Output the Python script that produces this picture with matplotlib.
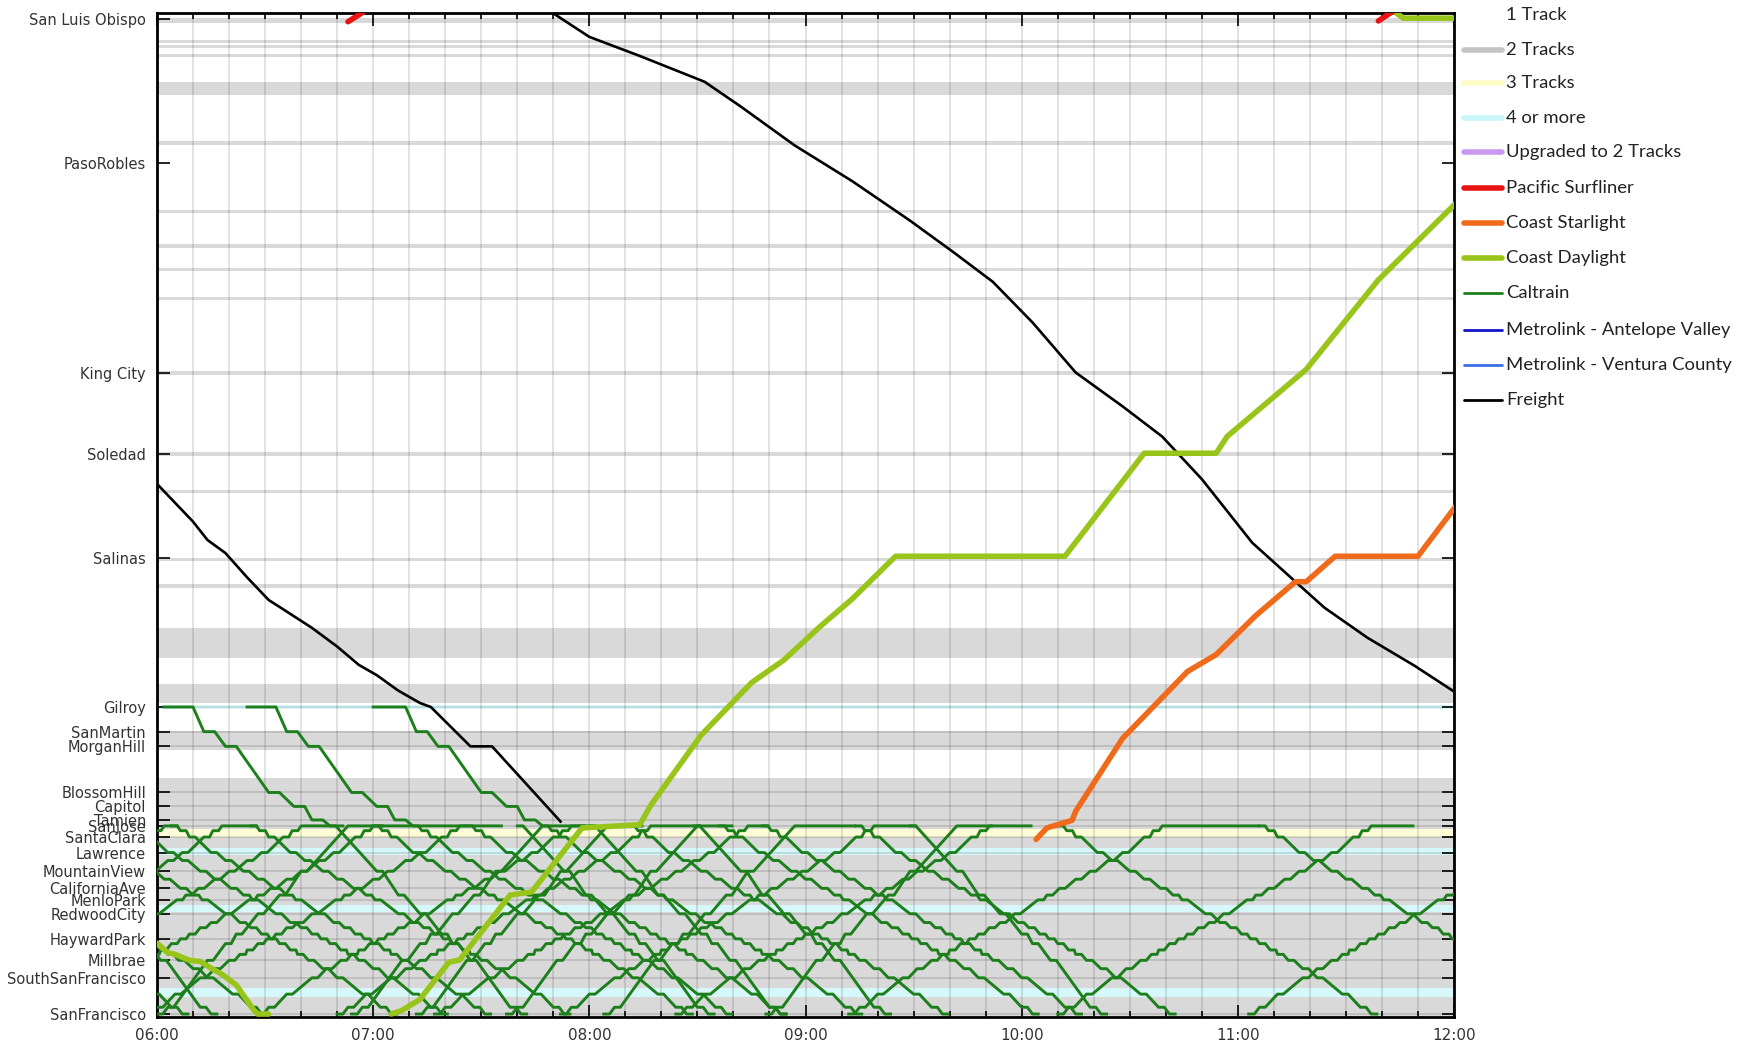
import matplotlib.pyplot as plt
from matplotlib.lines import Line2D


def hrs(s):
    h, m = s.split(':')
    return int(h) + float(m) / 60


# stations on the axis, milepost from San Francisco
station_names = ['San Luis Obispo', 'PasoRobles', 'King City', 'Soledad', 'Salinas', 'Gilroy',
                 'SanMartin', 'MorganHill', 'BlossomHill', 'Capitol', 'Tamien', 'SanJose',
                 'SantaClara', 'Lawrence', 'MountainView', 'CaliforniaAve', 'MenloPark',
                 'RedwoodCity', 'HaywardPark', 'Millbrae', 'SouthSanFrancisco', 'SanFrancisco']
station_mp = [250.4, 214.2, 161.4, 141.0, 114.9, 77.4, 71.2, 67.5, 55.9, 52.4, 49.0, 47.5,
              44.7, 40.8, 36.1, 31.8, 28.9, 25.4, 19.1, 13.7, 9.3, 0.2]

# track sections (milepost ranges)
two_tracks = [(249.5, 250.7), (244.3, 245.1), (243.0, 243.8), (240.9, 241.7), (231.3, 234.5),
              (218.8, 219.6), (201.5, 202.3), (192.9, 193.7), (187.1, 187.9), (179.8, 180.6),
              (161.0, 161.8), (140.6, 141.4), (131.1, 131.9), (114.0, 114.8), (107.4, 108.2),
              (89.7, 97.3), (78.4, 83.2), (66.6, 71.4), (-1.0, 59.5)]
three_tracks = [(44.7, 46.7)]
four_tracks = [(76.9, 77.9), (40.2, 41.9), (25.8, 27.6), (4.5, 6.7)]

# Caltrain stopping patterns (northbound, minutes after San Jose)
local_mp = [47.5, 46.3, 44.7, 40.8, 38.8, 36.1, 34.1, 31.8, 30.1, 28.9, 25.4, 23.2, 21.9,
            20.3, 19.1, 17.9, 16.3, 15.2, 13.7, 11.6, 9.3, 5.2, 1.9, 0.2]
local_min = [0, 2.5, 5, 11, 15, 20, 24, 28.5, 32, 34.5, 41, 45, 48, 51, 53.5, 56, 59, 61,
             64, 68, 72, 79, 84, 87]
express_mp = [47.5, 36.1, 30.1, 25.4, 20.3, 17.9, 13.7, 1.9, 0.2]
express_min = [0, 13, 19, 25, 31, 34, 39, 50, 53]
gilroy_mp = [77.4, 71.2, 67.5, 55.9, 52.4, 49.0]
gilroy_min = [0, 6, 12, 24, 31, 36]

# Caltrain trips
nb_dep = ['04:40', '05:02', '05:22', '05:38', '05:52', '06:04', '06:26', '07:00', '07:26',
          '07:40', '08:00', '08:11', '08:29', '08:36', '08:48', '09:14', '09:29', '10:10', '11:06']
nb_kind = ['L', 'L', 'E', 'L', 'L', 'L', 'L', 'L', 'L', 'E', 'E', 'L', 'E', 'L', 'L', 'L', 'E', 'L', 'L']
sb_dep = ['04:35', '04:51', '05:13', '05:33', '05:57', '06:00', '06:28', '06:50', '06:54',
          '07:12', '07:17', '07:37', '07:52', '08:04', '08:24', '08:49', '09:12', '10:10', '11:03']
sb_kind = ['L', 'L', 'L', 'L', 'L', 'E', 'L', 'L', 'E', 'E', 'L', 'E', 'L', 'E', 'L', 'E', 'L', 'L', 'L']
sb_layover = [2, 8, 10, 24, 10, 8, 5, 12, 10, 8, 4, 8, 10, 15, 10, 8, 25, 10, 0]
gilroy_ready = ['06:02', '06:25', '07:00']
gilroy_dep = ['06:07', '06:30', '07:06']
gilroy_kind = ['E', 'L', 'L']

# other trains: (time, milepost)
freight_1_t = ['05:55', '06:00', '06:06', '06:10', '06:14', '06:19', '06:25', '06:31', '06:36',
               '06:43', '06:50', '06:56', '07:01', '07:07', '07:13', '07:16', '07:27', '07:33', '07:52']
freight_1_mp = [138.0, 133.5, 127.8, 124.0, 119.4, 116.1, 110.0, 104.3, 101.4, 97.3, 92.6, 88.0,
                85.4, 81.5, 78.4, 77.4, 67.5, 67.5, 48.6]
freight_2_t = ['07:48', '08:00', '08:14', '08:32', '08:42', '08:57', '09:13', '09:29', '09:41',
               '09:52', '10:03', '10:15', '10:28', '10:39', '10:50', '11:04', '11:16', '11:24',
               '11:36', '11:49', '12:01']
freight_2_mp = [253.0, 245.9, 241.1, 234.6, 228.4, 218.6, 209.6, 199.7, 191.8, 184.3, 174.1, 161.5,
                153.0, 145.4, 134.7, 118.7, 108.9, 102.4, 94.8, 87.8, 80.7]
daylight_1_t = ['06:00', '06:03', '06:05', '06:09', '06:12', '06:16', '06:18', '06:22', '06:27',
                '06:28', '06:31']
daylight_1_mp = [18.0, 15.6, 15.2, 13.7, 13.4, 11.2, 10.2, 7.5, 1.0, 0.2, 0.2]
daylight_2_t = ['07:05', '07:08', '07:13', '07:21', '07:24', '07:38', '07:44', '07:55', '07:58',
                '08:14', '08:17', '08:31', '08:45', '08:54', '09:04', '09:13', '09:25', '10:12',
                '10:34', '10:54', '10:57', '11:19', '11:39', '12:01']
daylight_2_mp = [0.2, 1.1, 3.9, 13.2, 13.8, 30.1, 30.9, 43.6, 47.0, 47.8, 52.6, 70.3, 83.5, 89.2,
                 97.6, 104.6, 115.3, 115.3, 141.2, 141.2, 145.4, 162.3, 184.8, 204.5]
daylight_3_t = ['11:43', '11:46', '12:05']
daylight_3_mp = [252.5, 250.6, 250.6]
starlight_t = ['10:04', '10:07', '10:14', '10:15', '10:28', '10:40', '10:46', '10:54', '11:05',
               '11:16', '11:19', '11:27', '11:50', '12:01']
starlight_mp = [44.1, 47.0, 48.9, 51.2, 69.5, 80.7, 86.3, 90.6, 100.4, 108.9, 108.9, 115.3, 115.3, 128.5]
surfliner_1_t = ['06:53', '06:57']
surfliner_1_mp = [249.7, 252.0]
surfliner_2_t = ['11:39', '11:43']
surfliner_2_mp = [249.9, 252.3]

legend_labels = ['1 Track', '2 Tracks', '3 Tracks', '4 or more', 'Upgraded to 2 Tracks',
                 'Pacific Surfliner', 'Coast Starlight', 'Coast Daylight', 'Caltrain',
                 'Metrolink - Antelope Valley', 'Metrolink - Ventura County', 'Freight']

C_GRAY, C_YEL, C_CYAN = '#d9d9d9', '#fdfcd6', '#d6f8fa'
C_CALTRAIN = '#1c7f1c'
C_DAYLIGHT = '#99c51a'
C_STARLIGHT = '#f06a1c'
C_SURF = '#e81414'


def pattern(start, mps, mins, dwell, reverse=False):
    t0 = hrs(start)
    if reverse:
        total = mins[-1]
        mps = mps[::-1]
        mins = [total - m for m in mins[::-1]]
    ts, ys = [], []
    for mp, m in zip(mps, mins):
        ts += [t0 + m / 60, t0 + (m + dwell) / 60]
        ys += [mp, mp]
    return ts, ys


fig = plt.figure(figsize=(17.54, 10.44), dpi=100)
ax = fig.add_axes([157 / 1754, 27 / 1044, 1297 / 1754, 1004 / 1044])

for a, b in two_tracks:
    ax.axhspan(a, b, color=C_GRAY, lw=0, zorder=0)
for a, b in three_tracks:
    ax.axhspan(a, b, color=C_YEL, lw=0, zorder=0)
for a, b in four_tracks:
    ax.axhspan(a, b, color=C_CYAN, lw=0, zorder=0)

# station lines along the Caltrain corridor
corridor = [mp for mp in station_mp if mp < 80]
ax.hlines(corridor, 6, 12, color='black', alpha=0.14, lw=1.2, zorder=1)

# Caltrain
kw = dict(color=C_CALTRAIN, lw=2.1, zorder=3, solid_joinstyle='round')
for dep, kind in zip(nb_dep, nb_kind):
    mps, mins = (local_mp, local_min) if kind == 'L' else (express_mp, express_min)
    ax.plot(*pattern(dep, mps, mins, 1.6), **kw)
for dep, kind, lay in zip(sb_dep, sb_kind, sb_layover):
    mps, mins = (local_mp, local_min) if kind == 'L' else (express_mp, express_min)
    ts, ys = pattern(dep, mps, mins, 1.6, reverse=True)
    ts.append(ts[-1] + lay / 60)
    ys.append(ys[-1])
    ax.plot(ts, ys, **kw)
for ready, dep, kind in zip(gilroy_ready, gilroy_dep, gilroy_kind):
    ts, ys = pattern(dep, gilroy_mp, gilroy_min, 3)
    mps, mins = (local_mp, local_min) if kind == 'L' else (express_mp, express_min)
    t2, y2 = pattern(dep, mps, [m + gilroy_min[-1] + 5 for m in mins], 1.6)
    ax.plot([hrs(ready)] + ts + t2, [gilroy_mp[0]] + ys + y2, **kw)

# other services
for t, y in [(freight_1_t, freight_1_mp), (freight_2_t, freight_2_mp)]:
    ax.plot([hrs(s) for s in t], y, color='black', lw=1.9, zorder=4)
for t, y in [(daylight_1_t, daylight_1_mp), (daylight_2_t, daylight_2_mp), (daylight_3_t, daylight_3_mp)]:
    ax.plot([hrs(s) for s in t], y, color=C_DAYLIGHT, lw=4, zorder=5, solid_capstyle='round')
ax.plot([hrs(s) for s in starlight_t], starlight_mp, color=C_STARLIGHT, lw=4, zorder=5,
        solid_capstyle='round')
for t, y in [(surfliner_1_t, surfliner_1_mp), (surfliner_2_t, surfliner_2_mp)]:
    ax.plot([hrs(s) for s in t], y, color=C_SURF, lw=4, zorder=5, solid_capstyle='round')

ax.set_xlim(6, 12)
ax.set_ylim(-0.55, 251.9)
ax.set_xticks(range(6, 13))
ax.set_xticklabels(['%02d:00' % h for h in range(6, 13)])
ax.set_xticks([6 + i / 6 for i in range(37)], minor=True)
ax.set_yticks(station_mp)
ax.set_yticklabels(station_names)
ax.tick_params(axis='both', which='both', direction='in', top=True, right=True,
               labelcolor='#333333', width=1.2)
ax.tick_params(axis='x', which='major', length=9, pad=8, labelsize=11)
ax.tick_params(axis='x', which='minor', length=4)
ax.tick_params(axis='y', length=9, pad=8, labelsize=10.5)
ax.grid(which='both', axis='x', color='black', alpha=0.13, lw=1.2, zorder=1)
ax.set_axisbelow(True)
for sp in ax.spines.values():
    sp.set_linewidth(2)

# legend on the right
legend_colors = ['white', '#c4c4c4', '#fdfcc4', '#c8f6fc', '#c79af0', C_SURF, C_STARLIGHT,
                 C_DAYLIGHT, C_CALTRAIN, '#1414c8', '#3c6ee6', 'black']
legend_widths = [4, 4, 4, 4, 4, 4, 4, 4, 2, 2, 2, 2]
legend_y = [15, 50, 83, 118, 152, 188, 223, 258, 293, 330, 365, 400]
for lab, col, w, py in zip(legend_labels, legend_colors, legend_widths, legend_y):
    yf = 1 - py / 1044
    fig.add_artist(Line2D([1464 / 1754, 1502 / 1754], [yf, yf], transform=fig.transFigure,
                          color=col, lw=w, solid_capstyle='round'))
    fig.text(1506 / 1754, yf, lab, fontsize=13.3, family='Lato', color='#222222',
             va='center', ha='left')

fig.savefig('out.png', dpi=100)
